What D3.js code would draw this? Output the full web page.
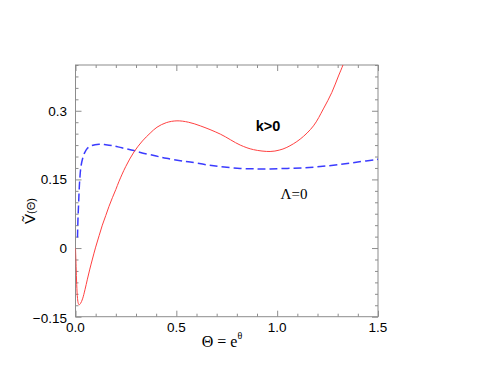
<!DOCTYPE html>
<html>
<head>
<meta charset="utf-8">
<script src="https://cdn.jsdelivr.net/npm/d3@7"></script>
<style>
  body { margin: 0; background: #fff; }
</style>
</head>
<body>
<div id="chart"></div>
<script>
// curve k>0 (red, solid)
var redX = [0, 0.003, 0.006, 0.010, 0.014, 0.018, 0.025, 0.035, 0.047, 0.059, 0.071, 0.084, 0.10, 0.117, 0.133, 0.150, 0.166, 0.183, 0.20, 0.216, 0.249, 0.29, 0.332, 0.37, 0.404, 0.45, 0.503, 0.56, 0.619, 0.718, 0.817, 0.883, 0.965, 1.01, 1.048, 1.114, 1.18, 1.229, 1.271, 1.304, 1.328, 1.36];
var redY = [0, -0.04, -0.08, -0.110, -0.121, -0.124, -0.121, -0.111, -0.091, -0.068, -0.046, -0.024, 0.002, 0.027, 0.050, 0.071, 0.091, 0.110, 0.128, 0.146, 0.178, 0.210, 0.234, 0.251, 0.264, 0.274, 0.278, 0.275, 0.267, 0.249, 0.225, 0.215, 0.211, 0.214, 0.220, 0.238, 0.267, 0.304, 0.340, 0.376, 0.402, 0.445];
// curve Lambda=0 (blue, dashed)
var blueX = [0.0099, 0.012, 0.0149, 0.018, 0.0213, 0.027, 0.035, 0.045, 0.059, 0.08, 0.117, 0.15, 0.183, 0.23, 0.29, 0.322, 0.40, 0.45, 0.52, 0.569, 0.65, 0.718, 0.817, 0.9, 0.965, 1.05, 1.13, 1.213, 1.3, 1.4, 1.5];
var blueY = [0.023, 0.06, 0.092, 0.125, 0.151, 0.178, 0.195, 0.208, 0.218, 0.224, 0.227, 0.226, 0.224, 0.219, 0.213, 0.209, 0.201, 0.196, 0.191, 0.188, 0.182, 0.178, 0.174, 0.173, 0.173, 0.174, 0.175, 0.178, 0.182, 0.188, 0.194];
var xTicks = [0, 0.5, 1.0, 1.5];
var xTickLabels = ['0.0', '0.5', '1.0', '1.5'];
var yTicks = [-0.15, 0, 0.15, 0.3];
var yTickLabels = ['\u22120.15', '0', '0.15', '0.3'];

var W = 495, H = 383;
var pL = 75.5, pR = 378, pT = 65, pB = 316.7;
var sans = '"Liberation Sans", Arial, Helvetica, sans-serif';
var serif = '"Liberation Serif", "Times New Roman", serif';

var svg = d3.select('#chart').append('svg')
    .attr('width', W)
    .attr('height', H);

var x = d3.scaleLinear().domain([0, 1.5]).range([pL, pR]);
var y = d3.scaleLinear().domain([-0.15, 0.40]).range([pB, pT]);

svg.append('clipPath').attr('id', 'clip')
    .append('rect')
    .attr('x', pL).attr('y', pT)
    .attr('width', pR - pL).attr('height', pB - pT);

var frameColor = '#8c8c8c';

// minor + major ticks on all sides, pointing inward
var xMinor = d3.range(0, 1.5001, 0.1);
var yMinor = d3.range(-0.15, 0.4001, 0.025);

function isMajor(v, list) {
    return list.some(function (t) { return Math.abs(t - v) < 1e-6; });
}

var axisBottom = d3.axisBottom(x).tickValues(xMinor).tickFormat('')
    .tickSizeInner(0).tickSizeOuter(0);
var gB = svg.append('g').attr('transform', 'translate(0,' + pB + ')').call(axisBottom);
gB.selectAll('.tick line').attr('y2', function (d) { return isMajor(d, xTicks) ? -6 : -3; });
var gT = svg.append('g').attr('transform', 'translate(0,' + pT + ')').call(axisBottom);
gT.selectAll('.tick line').attr('y2', function (d) { return isMajor(d, xTicks) ? 6 : 3; });

var axisLeft = d3.axisLeft(y).tickValues(yMinor).tickFormat('')
    .tickSizeInner(0).tickSizeOuter(0);
var gL = svg.append('g').attr('transform', 'translate(' + pL + ',0)').call(axisLeft);
gL.selectAll('.tick line').attr('x2', function (d) { return isMajor(d, yTicks) ? 6 : 3; });
var gR = svg.append('g').attr('transform', 'translate(' + pR + ',0)').call(axisLeft);
gR.selectAll('.tick line').attr('x2', function (d) { return isMajor(d, yTicks) ? -6 : -3; });

svg.selectAll('.domain').remove();
svg.selectAll('.tick line').attr('stroke', frameColor);

svg.append('rect')
    .attr('x', pL).attr('y', pT)
    .attr('width', pR - pL).attr('height', pB - pT)
    .attr('fill', 'none')
    .attr('stroke', frameColor)
    .attr('stroke-width', 1);

// tick labels
svg.selectAll('.xlab').data(xTicks).enter().append('text')
    .attr('x', function (d) { return x(d); })
    .attr('y', pB + 15.5)
    .attr('text-anchor', 'middle')
    .style('font-family', sans)
    .style('font-size', '13.5px')
    .text(function (d, i) { return xTickLabels[i]; });

svg.selectAll('.ylab').data(yTicks).enter().append('text')
    .attr('x', pL - 8.5)
    .attr('y', function (d, i) { return y(d) + (i === 0 ? 6 : 5); })
    .attr('text-anchor', 'end')
    .style('font-family', sans)
    .style('font-size', '13.5px')
    .text(function (d, i) { return yTickLabels[i]; });

// curves
var line = d3.line()
    .x(function (d) { return x(d[0]); })
    .y(function (d) { return y(d[1]); })
    .curve(d3.curveCatmullRom.alpha(0.5));

var plot = svg.append('g').attr('clip-path', 'url(#clip)');

plot.append('path')
    .datum(blueX.map(function (v, i) { return [v, blueY[i]]; }))
    .attr('d', line)
    .attr('fill', 'none')
    .attr('stroke', '#3b3bff')
    .attr('stroke-width', 1.5)
    .attr('stroke-dasharray', '8,4');

plot.append('path')
    .datum(redX.map(function (v, i) { return [v, redY[i]]; }))
    .attr('d', line)
    .attr('fill', 'none')
    .attr('stroke', '#ff4040')
    .attr('stroke-width', 1);

// annotations
svg.append('text')
    .attr('x', 268).attr('y', 131)
    .attr('text-anchor', 'middle')
    .style('font-family', sans)
    .style('font-size', '14.5px')
    .style('font-weight', 'bold')
    .text('k>0');

svg.append('text')
    .attr('x', 294).attr('y', 199)
    .attr('text-anchor', 'middle')
    .style('font-family', serif)
    .style('font-size', '15px')
    .text('\u039b=0');

// x title
var xt = svg.append('text')
    .attr('x', 222).attr('y', 347)
    .attr('text-anchor', 'middle')
    .style('font-family', serif)
    .style('font-size', '16px');
xt.append('tspan').text('\u0398 = e');
xt.append('tspan').attr('dy', -8).style('font-size', '10px').text('\u03b8');

// y title
var yt = svg.append('text')
    .attr('transform', 'translate(35,211) rotate(-90)')
    .attr('text-anchor', 'middle')
    .style('font-family', sans)
    .style('font-size', '15px');
yt.append('tspan').text('V\u0303');
yt.append('tspan').style('font-size', '11px').text('(\u0398)');
</script>
</body>
</html>
